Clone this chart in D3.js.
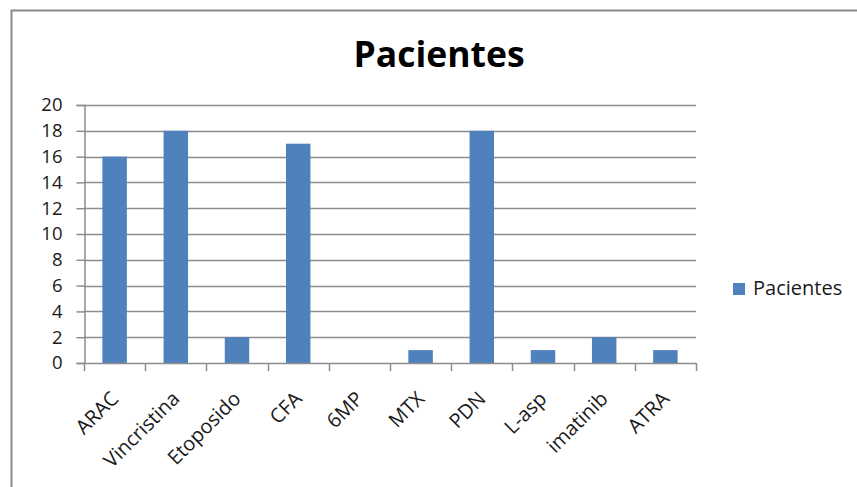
<!DOCTYPE html>
<html>
<head>
<meta charset="utf-8">
<script src="https://cdn.jsdelivr.net/npm/d3@7"></script>
<style>
  html, body { margin: 0; padding: 0; background: #fff; }
  svg { display: block; }
  text { font-family: "Open Sans", sans-serif; }
</style>
</head>
<body>
<svg id="chart" width="857" height="487"></svg>
<script>
// Drugs given and number of patients per drug
const categories = ["ARAC", "Vincristina", "Etoposido", "CFA", "6MP", "MTX", "PDN", "L-asp", "imatinib", "ATRA"];
const pacientes = [16, 18, 2, 17, 0, 1, 18, 1, 2, 1];
const yTicks = [0, 2, 4, 6, 8, 10, 12, 14, 16, 18, 20];
const seriesName = "Pacientes";

const svg = d3.select("#chart");
const W = 857, H = 487;
const axisColor = "#8c8c8c";
const textColor = "#1a1a1a";
const barColor = "#4f81bd";

// Frame around the chart area
svg.append("rect").attr("x", 0).attr("y", 0).attr("width", W).attr("height", H).attr("fill", "#fff");
svg.append("path")
  .attr("d", `M11.5,${H} V10.5 H${W}`)
  .attr("fill", "none").attr("stroke", "#8a8a8a").attr("stroke-width", 2);

const plot = { left: 84, right: 696, top: 105, bottom: 363 };

const xb = d3.scaleBand().domain(categories).range([plot.left, plot.right]);
const y = d3.scaleLinear().domain([0, 20]).range([plot.bottom, plot.top]);

// Title
svg.append("text")
  .attr("x", 439).attr("y", 67)
  .attr("text-anchor", "middle")
  .attr("font-size", 35.5).attr("font-weight", "bold").attr("fill", "#000")
  .text(seriesName);

// Horizontal gridlines
svg.append("g").selectAll("line").data(yTicks.filter(d => d > 0)).join("line")
  .attr("x1", plot.left).attr("x2", plot.right)
  .attr("y1", d => Math.round(y(d)) + 0.5).attr("y2", d => Math.round(y(d)) + 0.5)
  .attr("stroke", axisColor).attr("stroke-width", 1.5);

// Y axis
const yAxis = svg.append("g").attr("transform", `translate(${plot.left + 0.5},0)`)
  .call(d3.axisLeft(y).tickValues(yTicks).tickSize(8).tickPadding(14).tickFormat(d3.format("d")));
yAxis.select(".domain").attr("stroke", axisColor).attr("stroke-width", 1.5);
yAxis.selectAll(".tick line").attr("stroke", axisColor).attr("stroke-width", 1.5);
yAxis.selectAll(".tick text")
  .attr("font-size", 18.5).attr("fill", textColor).attr("font-family", "'Open Sans', sans-serif");

// Bars
svg.append("g").selectAll("rect").data(categories).join("rect")
  .attr("x", d => xb(d) + xb.bandwidth() * 0.3)
  .attr("width", xb.bandwidth() * 0.4)
  .attr("y", (d, i) => y(pacientes[i]))
  .attr("height", (d, i) => y(0) - y(pacientes[i]))
  .attr("fill", barColor);

// X axis with ticks at category boundaries
const xg = svg.append("g");
xg.append("line")
  .attr("x1", plot.left).attr("x2", plot.right)
  .attr("y1", plot.bottom + 0.5).attr("y2", plot.bottom + 0.5)
  .attr("stroke", axisColor).attr("stroke-width", 1.5);
const bounds = categories.map(c => xb(c)).concat([plot.right]);
xg.selectAll("line.tk").data(bounds).join("line").attr("class", "tk")
  .attr("x1", d => Math.round(d) + 0.5).attr("x2", d => Math.round(d) + 0.5)
  .attr("y1", plot.bottom).attr("y2", plot.bottom + 8)
  .attr("stroke", axisColor).attr("stroke-width", 1.5);

// Rotated category labels
xg.selectAll("text").data(categories).join("text")
  .attr("transform", d => `translate(${xb(d) + xb.bandwidth() / 2 + 5},${plot.bottom + 37}) rotate(-45)`)
  .attr("text-anchor", "end")
  .attr("font-size", 20).attr("fill", textColor)
  .text(d => d);

// Legend
const lg = svg.append("g").attr("transform", "translate(733,283)");
lg.append("rect").attr("width", 12).attr("height", 12).attr("fill", barColor);
lg.append("text").attr("x", 20).attr("y", 12)
  .attr("font-size", 20).attr("fill", textColor)
  .text(seriesName);
</script>
</body>
</html>
